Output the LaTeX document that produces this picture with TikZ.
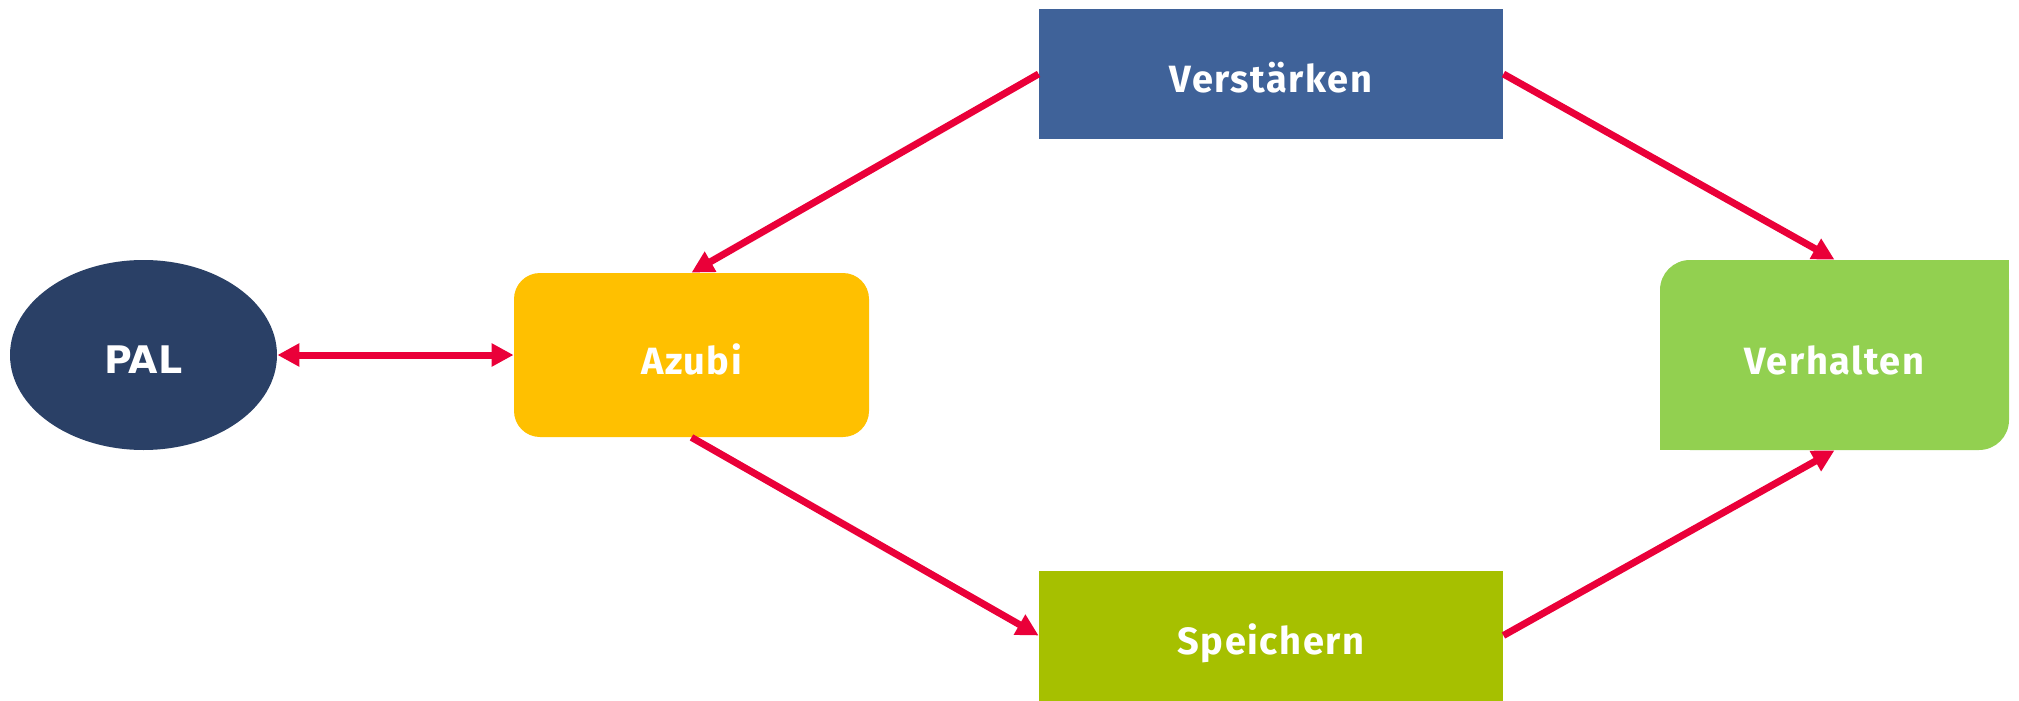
\documentclass[tikz,border=0pt]{standalone}
\usepackage{fontspec}
\setmainfont{Fira Sans}
\newfontfamily\palfont{DejaVu Sans}
\usetikzlibrary{arrows.meta,shapes.geometric}
\definecolor{palblue}{HTML}{2A4066}
\definecolor{azubiyellow}{HTML}{FFC000}
\definecolor{verblue}{HTML}{3F6299}
\definecolor{speigreen}{HTML}{A6C000}
\definecolor{verhgreen}{HTML}{92D050}
\definecolor{arrowred}{HTML}{EA0039}
\tikzset{
  lbl/.style={text=white, text height=19pt, text depth=0pt, font=\fontsize{19}{22}\selectfont\addfontfeature{LetterSpace=4}\bfseries},
  boxnode/.style={lbl, rectangle, inner sep=0pt},
  conn/.style={draw=arrowred, line width=3.5pt, -{Triangle[length=11pt,width=11pt]}},
  biconn/.style={draw=arrowred, line width=3.5pt, {Triangle[length=11pt,width=11pt]}-{Triangle[length=11pt,width=11pt]}}
}
\begin{document}
\begin{tikzpicture}[x=0.5pt,y=-0.5pt]
\useasboundingbox (0,0) rectangle (2019,701);
% Verhalten background: rounded top-left and bottom-right only
\fill[verhgreen, rounded corners=15pt] (1660,260) rectangle (2009,450);
\fill[verhgreen] (1900,260) rectangle (2009,350);
\fill[verhgreen] (1660,350) rectangle (1800,450);
\node[ellipse, fill=palblue, minimum width=133.5pt, minimum height=95pt, inner sep=0pt, text=white, text height=18pt, text depth=0pt, font=\fontsize{19}{22}\selectfont\palfont\bfseries] (pal) at (143.5,355) {PAL};
\node[boxnode, fill=azubiyellow, rounded corners=13pt, minimum width=177.5pt, minimum height=82pt] (azubi) at (691.5,355) {Azubi};
\node[boxnode, fill=verblue, minimum width=232pt, minimum height=65pt] (verst) at (1271,74) {Verstärken};
\node[boxnode, fill=speigreen, minimum width=232pt, minimum height=65pt] (speich) at (1271,635.5) {Speichern};
\node[boxnode, minimum width=174.5pt, minimum height=95pt] (verh) at (1834.5,355) {Verhalten};
\draw[biconn] (pal.east) -- (azubi.west);
\draw[conn] (verst.west) -- (azubi.north);
\draw[conn] (verst.east) -- (verh.north);
\draw[conn] (azubi.south) -- (speich.west);
\draw[conn] (speich.east) -- (verh.south);
\end{tikzpicture}
\end{document}
